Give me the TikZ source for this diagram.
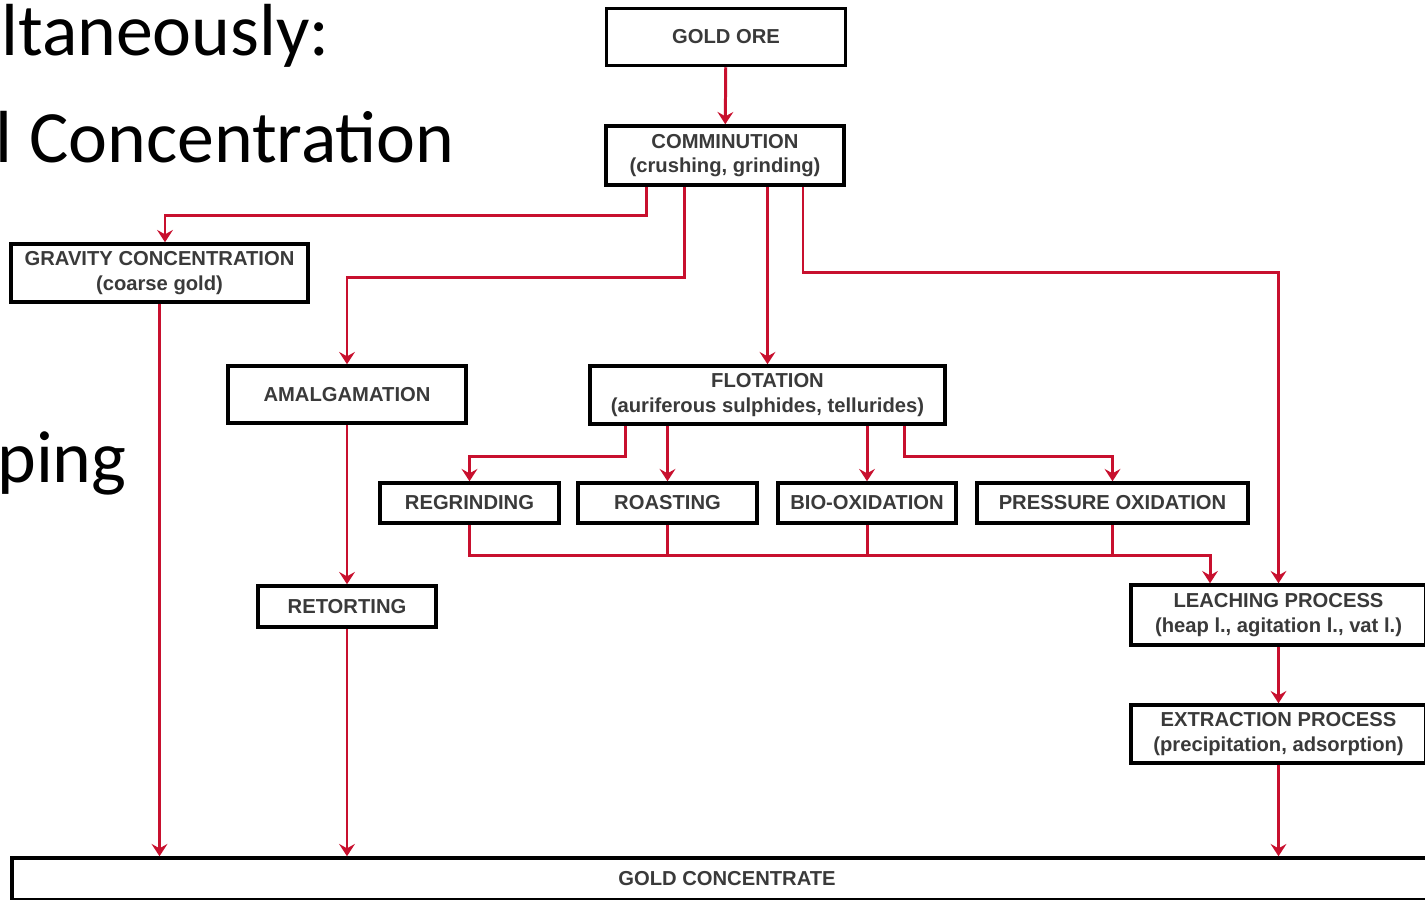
\documentclass[tikz,border=0pt]{standalone}
\usepackage{fontspec}
\setmainfont{Liberation Sans}
\newfontfamily\slidefont{Carlito}
\usetikzlibrary{arrows.meta,positioning,calc}
\definecolor{FlowRed}{HTML}{C8102E}
\definecolor{TextGray}{HTML}{3A3A3A}
\tikzset{
  BX/.style={rectangle,draw=black,line width=2pt,fill=white,inner sep=0pt,
             align=center,text=TextGray,font=\fontsize{11.5}{14}\selectfont\bfseries},
  arr/.style={-{Stealth[length=7pt,width=9pt,inset=2.5pt]},draw=FlowRed,line width=1.7pt},
  ln/.style={draw=FlowRed,line width=1.7pt},
  SL/.style={anchor=base west,inner sep=0pt,font=\slidefont\fontsize{42}{50}\selectfont}
}

\begin{document}
\begin{tikzpicture}[x=0.02cm,y=-0.02cm]
  \useasboundingbox (0,0) rectangle (1425,899);
  \fill[white] (0,0) rectangle (1425,899);
  \clip (0,0) rectangle (1425,899);

  % slide text behind the chart
  \node[SL] (s1) at (1,55) {ltaneously:};
  \node[SL,anchor=base east] (s2) at (455,162) {l Concentration};
  \node[SL] (s3) at (-3,482) {ping};

  % process boxes
  \node[BX,minimum width=4.78cm,minimum height=1.14cm] (ore) at (726,37) {GOLD ORE};
  \node[BX,minimum width=4.76cm,minimum height=1.18cm] (comm) at (725,155.5) {COMMINUTION\\(crushing, grinding)};
  \node[BX,minimum width=5.94cm,minimum height=1.16cm] (grav) at (159.5,273) {GRAVITY CONCENTRATION\\(coarse gold)};
  \node[BX,minimum width=4.76cm,minimum height=1.14cm] (amal) at (347,394.5) {AMALGAMATION};
  \node[BX,minimum width=7.1cm,minimum height=1.16cm] (flot) at (767.5,395) {FLOTATION\\(auriferous sulphides, tellurides)};
  \node[BX,minimum width=3.58cm,minimum height=0.8cm] (regr) at (469.5,503) {REGRINDING};
  \node[BX,minimum width=3.58cm,minimum height=0.8cm] (roast) at (667.5,503) {ROASTING};
  \node[BX,minimum width=3.56cm,minimum height=0.8cm] (bio) at (867,503) {BIO-OXIDATION};
  \node[BX,minimum width=5.42cm,minimum height=0.8cm] (press) at (1112.5,503) {PRESSURE OXIDATION};
  \node[BX,minimum width=3.56cm,minimum height=0.82cm] (ret) at (347,606.5) {RETORTING};
  \node[BX,minimum width=5.9cm,minimum height=1.2cm] (leach) at (1278.5,615) {LEACHING PROCESS\\(heap l., agitation l., vat l.)};
  \node[BX,minimum width=5.9cm,minimum height=1.16cm] (extr) at (1278.5,734) {EXTRACTION PROCESS\\(precipitation, adsorption)};
  \node[BX,minimum width=28.6cm,minimum height=0.84cm] (conc) at (727,879) {GOLD CONCENTRATE};

  % connectors
  \draw[arr](ore)--(comm);
  \draw[arr]([xshift=-1.58cm]comm.south)--++(0,29)-|([xshift=0.11cm]grav.north);
  \draw[arr]([xshift=-0.82cm]comm.south)--++(0,91)-|(amal.north);
  \draw[arr](flot.north |- comm.south)--(flot.north);
  \draw[arr]([xshift=1.56cm]comm.south)--++(0,86)-|(leach.north);
  \draw[arr](grav.south)--(grav.south |- conc.north);
  \draw[arr](amal)--(ret);
  \draw[arr](ret.south)--(ret.south |- conc.north);
  \draw[arr]([xshift=-2.85cm]flot.south)--++(0,31)-|(regr.north);
  \draw[arr](roast.north |- flot.south)--(roast.north);
  \draw[arr](bio.north |- flot.south)--(bio.north);
  \draw[arr]([xshift=2.75cm]flot.south)--++(0,31)-|(press.north);
  \coordinate (mrg) at ($(regr.south)+(0,31)$);
  \draw[arr](regr.south)--(mrg)-|([xshift=-1.37cm]leach.north);
  \draw[ln](roast.south)--(roast.south |- mrg);
  \draw[ln](bio.south)--(bio.south |- mrg);
  \draw[ln](press.south)--(press.south |- mrg);
  \draw[arr](leach)--(extr);
  \draw[arr](extr.south)--(extr.south |- conc.north);
\end{tikzpicture}
\end{document}
